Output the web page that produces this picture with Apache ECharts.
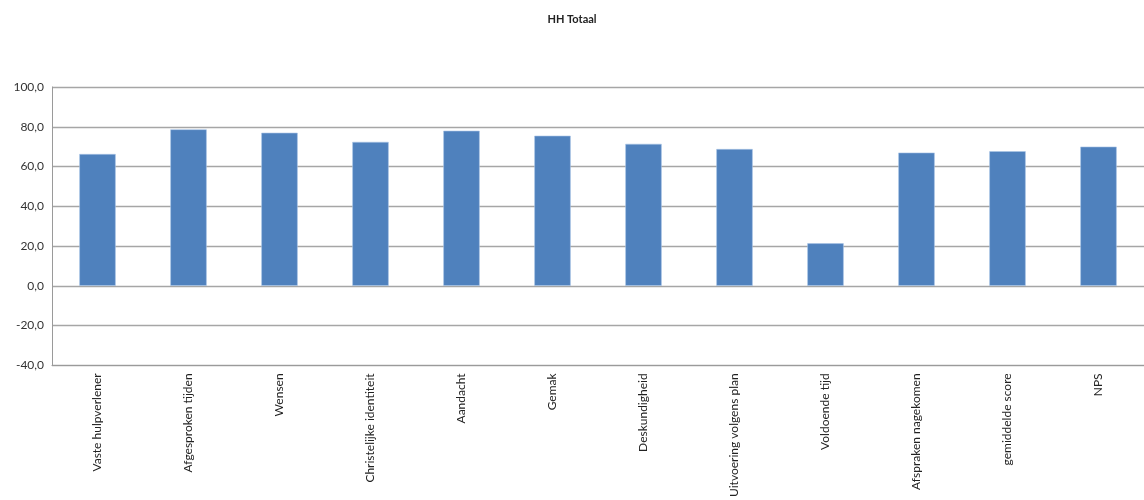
<!DOCTYPE html>
<html lang="nl">
<head>
    <meta charset="UTF-8">
    <title>HH Totaal</title>
    <script src="https://cdn.jsdelivr.net/npm/echarts@6/dist/echarts.min.js"></script>
    <style>
        html, body { margin: 0; padding: 0; background: #fff; }
        #main { width: 1144px; height: 500px; }
    </style>
</head>
<body>
<div id="main"></div>
<script type="text/javascript">
    // categorieen en scores
    var categories = ['Vaste hulpverlener', 'Afgesproken tijden', 'Wensen', 'Christelijke identiteit',
        'Aandacht', 'Gemak', 'Deskundigheid', 'Uitvoering volgens plan', 'Voldoende tijd',
        'Afspraken nagekomen', 'gemiddelde score', 'NPS'];
    var scores = [66.3, 78.7, 77.0, 72.4, 78.0, 75.5, 71.4, 68.8, 21.4, 67.0, 67.7, 70.0];
    var yMin = -40, yMax = 100, yStep = 20;

    var myChart = echarts.init(document.getElementById('main'));

    var option = {
        animation: false,
        textStyle: { fontFamily: 'Lato, sans-serif' },
        title: {
            text: 'HH Totaal',
            left: 'center',
            top: 9,
            textStyle: { fontSize: 11, fontWeight: 'bold', color: '#222', fontFamily: 'Lato, sans-serif' }
        },
        grid: { left: 52, right: 0, top: 87, bottom: 134 },
        xAxis: {
            type: 'category',
            data: categories,
            axisLine: { onZero: false, lineStyle: { color: '#9a9a9a', width: 1 } },
            axisTick: { show: false },
            axisLabel: { rotate: 90, fontSize: 12, color: '#222', margin: 8, interval: 0 }
        },
        yAxis: {
            type: 'value',
            min: yMin,
            max: yMax,
            interval: yStep,
            axisLine: { show: true, lineStyle: { color: '#9a9a9a' } },
            axisTick: { show: false },
            splitLine: { lineStyle: { color: '#a6a6a6', width: 1.3 } },
            axisLabel: {
                fontSize: 12, color: '#333', margin: 8,
                formatter: function (v) { return v.toFixed(1).replace('.', ','); }
            }
        },
        series: [{
            type: 'bar',
            data: scores,
            barWidth: '40%',
            itemStyle: { color: '#4F81BD', borderColor: '#a9c4e6', borderWidth: 0.6 }
        }]
    };

    myChart.setOption(option);
</script>
</body>
</html>
